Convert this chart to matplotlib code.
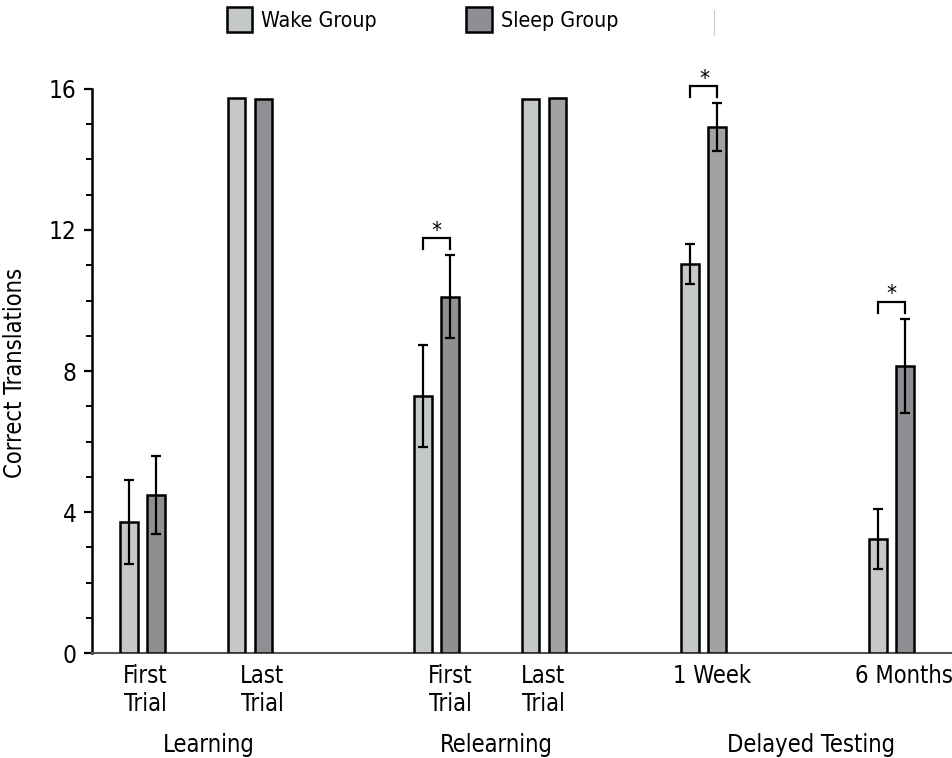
import matplotlib
matplotlib.use("Agg")
import matplotlib.pyplot as plt
from matplotlib.patches import Patch
from matplotlib.lines import Line2D
import numpy as np

plt.rcParams['font.family'] = ['DejaVu Sans']
plt.rcParams['font.stretch'] = 'condensed'

# Conditions, one bar pair each
conditions = ["First\nTrial", "Last\nTrial", "First\nTrial", "Last\nTrial", "1 Week", "6 Months"]
phases = ["Learning", "Relearning", "Delayed Testing"]

wake_mean = [3.72, 15.74, 7.29, 15.72, 11.03, 3.23]
wake_err = [1.20, 0.0, 1.44, 0.0, 0.57, 0.86]
sleep_mean = [4.48, 15.71, 10.11, 15.75, 14.92, 8.14]
sleep_err = [1.11, 0.0, 1.17, 0.0, 0.67, 1.33]
significant = [False, False, True, False, True, True]

# Layout: x slots for the bar pairs, tick-label and phase-caption centres
slots = np.array([0.0, 1.0, 2.735, 3.735, 5.223, 6.967])
label_x = [0.028, 1.116, 2.86, 3.726, 5.298, 7.084]
phase_x = [0.62, 3.29, 6.22]
bar_w = 0.167
offset = 0.1256

wake_col = "#c4c9c8"
sleep_col = ["#8f8e93", "#8f8e93", "#8f8e93", "#9fa3a3", "#9fa3a3", "#8f8e93"]

fig = plt.figure(figsize=(9.53, 7.58), dpi=100)
ax = fig.add_axes([92 / 953, 0.1385, 1 - 92 / 953, 0.7906])

ax.bar(slots - offset, wake_mean, bar_w, color=wake_col, edgecolor="black", linewidth=1.8, zorder=3)
ax.bar(slots + offset, sleep_mean, bar_w, color=sleep_col, edgecolor="black", linewidth=1.8, zorder=3)

for xs, m, e in ((slots - offset, wake_mean, wake_err), (slots + offset, sleep_mean, sleep_err)):
    xs = np.asarray(xs); m = np.asarray(m); e = np.asarray(e)
    keep = e > 0
    ax.errorbar(xs[keep], m[keep], yerr=e[keep], fmt="none", ecolor="black",
                elinewidth=1.6, capsize=3.6, capthick=1.6, zorder=4)

# Significance brackets
for i, sig in enumerate(significant):
    if not sig:
        continue
    top = max(wake_mean[i] + wake_err[i], sleep_mean[i] + sleep_err[i]) + 0.5
    x0 = slots[i] - offset
    x1 = slots[i] + offset
    ax.plot([x0, x0, x1, x1], [top - 0.33, top, top, top - 0.33], color="black",
            lw=1.6, clip_on=False, zorder=5, solid_joinstyle="miter")
    ax.text((x0 + x1) / 2, top - 0.08, "*", ha="center", va="bottom", fontsize=16,
            clip_on=False)

ax.set_xlim(-0.47, 7.54)
ax.set_ylim(0, 17)

for side in ("top", "right"):
    ax.spines[side].set_visible(False)
ax.spines["left"].set_bounds(0, 16)
ax.spines["left"].set_linewidth(1.8)
ax.spines["bottom"].set_color("#555555")
ax.spines["bottom"].set_linewidth(1.5)

ax.set_yticks([0, 4, 8, 12, 16])
ax.set_yticks(np.arange(0, 17, 1), minor=True)
ax.tick_params(axis="y", which="major", length=6, width=1.6, labelsize=17.5, pad=5)
ax.tick_params(axis="y", which="minor", length=4, width=1.4)
ax.set_xticks(label_x)
ax.set_xticklabels(conditions, fontsize=17, linespacing=1.2)
ax.tick_params(axis="x", length=0, pad=8)

ax.set_ylabel("Correct Translations", fontsize=17)
ax.yaxis.set_label_coords(-0.0755, 0.467)

for x, name in zip(phase_x, phases):
    ax.text(x, -0.1535, name, transform=ax.get_xaxis_transform(), ha="center",
            va="center", fontsize=17)

handles = [Patch(facecolor=wake_col, edgecolor="black", linewidth=1.8),
           Patch(facecolor=sleep_col[0], edgecolor="black", linewidth=1.8)]
fig.legend(handles, ["Wake Group", "Sleep Group"], loc="upper left",
           bbox_to_anchor=(227 / 953, 1 - 7 / 758), ncol=2, frameon=False,
           fontsize=15.3, handlelength=1.2, handleheight=1.45, handletextpad=0.42,
           columnspacing=4.2, borderpad=0, borderaxespad=0)

fig.add_artist(Line2D([714 / 953, 714 / 953], [1 - 10 / 758, 1 - 35 / 758],
                      color="#cccccc", lw=0.8))

fig.savefig("out.png", dpi=100)
